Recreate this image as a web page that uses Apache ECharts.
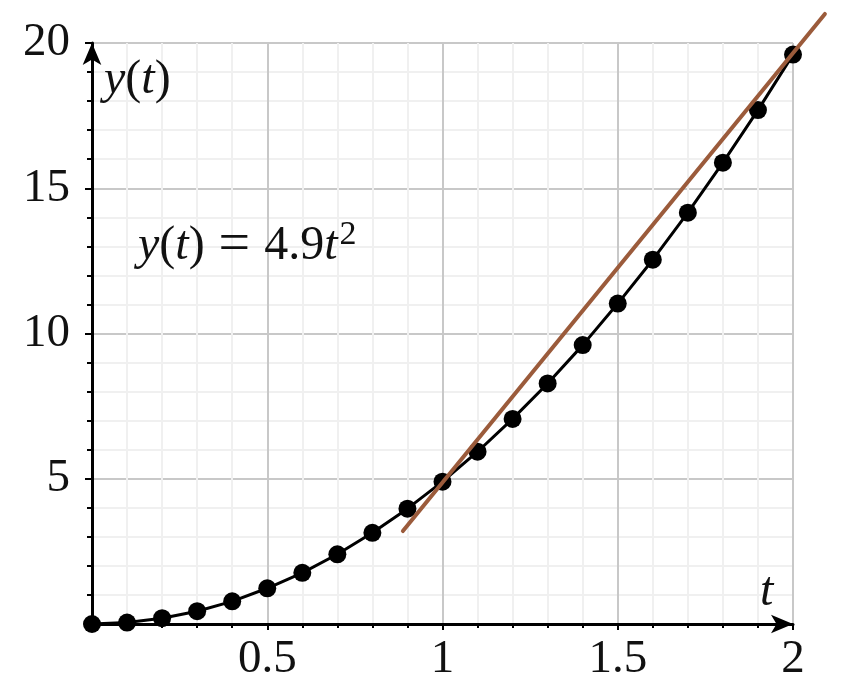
<!DOCTYPE html>
<html>
<head>
<meta charset="utf-8">
<script src="https://cdn.jsdelivr.net/npm/echarts@6/dist/echarts.min.js"></script>
<style>
html,body{margin:0;padding:0;background:#fff;}
#chart{width:853px;height:699px;}
</style>
</head>
<body>
<div id="chart"></div>
<script>
// t values and y(t) values
const tValues = [0, 0.1, 0.2, 0.3, 0.4, 0.5, 0.6, 0.7, 0.8, 0.9, 1.0, 1.1, 1.2, 1.3, 1.4, 1.5, 1.6, 1.7, 1.8, 1.9, 2.0];
const yValues = [0, 0.05, 0.2, 0.44, 0.78, 1.23, 1.76, 2.4, 3.14, 3.97, 4.9, 5.93, 7.06, 8.28, 9.6, 11.03, 12.54, 14.16, 15.88, 17.69, 19.6];
// secant (brown) line endpoints
const secantT = [0.887, 2.091];
const secantY = [3.2, 21.0];
const xTicks = [0.5, 1, 1.5, 2];
const yTicks = [5, 10, 15, 20];

const font = '"Liberation Serif","DejaVu Serif",serif';
const chart = echarts.init(document.getElementById('chart'));

const curve = tValues.map((t, i) => [t, yValues[i]]);
const secant = [[secantT[0], secantY[0], secantT[1], secantY[1]]];

chart.setOption({
  animation: false,
  backgroundColor: '#fff',
  grid: {left: 92, top: 43, right: 60, bottom: 75, containLabel: false},
  xAxis: {
    type: 'value', min: 0, max: 2, interval: 0.5,
    axisLine: {show: true, onZero: false, symbol: ['none', 'arrow'], symbolSize: [14, 22], symbolOffset: [0, 0],
      lineStyle: {color: '#000', width: 3}},
    axisTick: {show: true, length: 6, inside: false, lineStyle: {color: '#000', width: 2}},
    minorTick: {show: true, splitNumber: 5, length: 4, lineStyle: {color: '#000', width: 2}},
    splitLine: {show: true, lineStyle: {color: '#c8c8c8', width: 2}},
    minorSplitLine: {show: true, lineStyle: {color: '#f0f0f0', width: 2}},
    axisLabel: {
      show: true, margin: 12, color: '#111', fontFamily: font, fontSize: 47,
      showMinLabel: false,
      formatter: v => xTicks.includes(v) ? String(v) : ''
    }
  },
  yAxis: {
    type: 'value', min: 0, max: 20, interval: 5,
    axisLine: {show: true, onZero: false, symbol: ['none', 'arrow'], symbolSize: [14, 22], symbolOffset: [0, 0],
      lineStyle: {color: '#000', width: 3}},
    axisTick: {show: true, length: 7, inside: false, lineStyle: {color: '#000', width: 2}},
    minorTick: {show: true, splitNumber: 5, length: 5, lineStyle: {color: '#000', width: 2}},
    splitLine: {show: true, lineStyle: {color: '#c8c8c8', width: 2}},
    minorSplitLine: {show: true, lineStyle: {color: '#f0f0f0', width: 2}},
    axisLabel: {
      show: true, margin: 22, color: '#111', fontFamily: font, fontSize: 47,
      showMinLabel: false,
      formatter: v => yTicks.includes(v) ? String(v) : ''
    }
  },
  series: [
    {
      type: 'line', data: curve, smooth: false,
      symbol: 'circle', symbolSize: 18, showSymbol: true,
      lineStyle: {color: '#000', width: 3},
      itemStyle: {color: '#000'},
      z: 3
    },
    {
      type: 'custom', data: secant, clip: false, z: 4,
      renderItem: function (params, api) {
        const p0 = api.coord([api.value(0), api.value(1)]);
        const p1 = api.coord([api.value(2), api.value(3)]);
        return {
          type: 'line',
          shape: {x1: p0[0], y1: p0[1], x2: p1[0], y2: p1[1]},
          style: {stroke: '#9b5b3b', lineWidth: 4, lineCap: 'round'}
        };
      }
    }
  ],
  graphic: [
    {
      type: 'text', left: 104, top: 56, z: 10,
      style: {
        text: '{i|y}({i|t})',
        rich: {i: {fontStyle: 'italic', fontFamily: font, fontSize: 48, fill: '#111'}},
        fontFamily: font, fontSize: 48, fill: '#111'
      }
    },
    {
      type: 'text', left: 760, top: 568, z: 10,
      style: {text: 't', fontStyle: 'italic', fontFamily: font, fontSize: 48, fill: '#111'}
    },
    {
      type: 'text', left: 138, top: 218, z: 10,
      style: {
        text: '{i|y}({i|t}){e|=}4.9{i|t}{s|2}',
        fontFamily: font, fontSize: 48, fill: '#111',
        rich: {
          i: {fontStyle: 'italic', fontFamily: font, fontSize: 48, fill: '#111'},
          e: {fontFamily: font, fontSize: 56, fill: '#111', padding: [0, 14, 0, 14]},
          s: {fontFamily: font, fontSize: 34, fill: '#111', verticalAlign: 'top', padding: [0, 0, 18, 2]}
        }
      }
    }
  ]
});
</script>
</body>
</html>
